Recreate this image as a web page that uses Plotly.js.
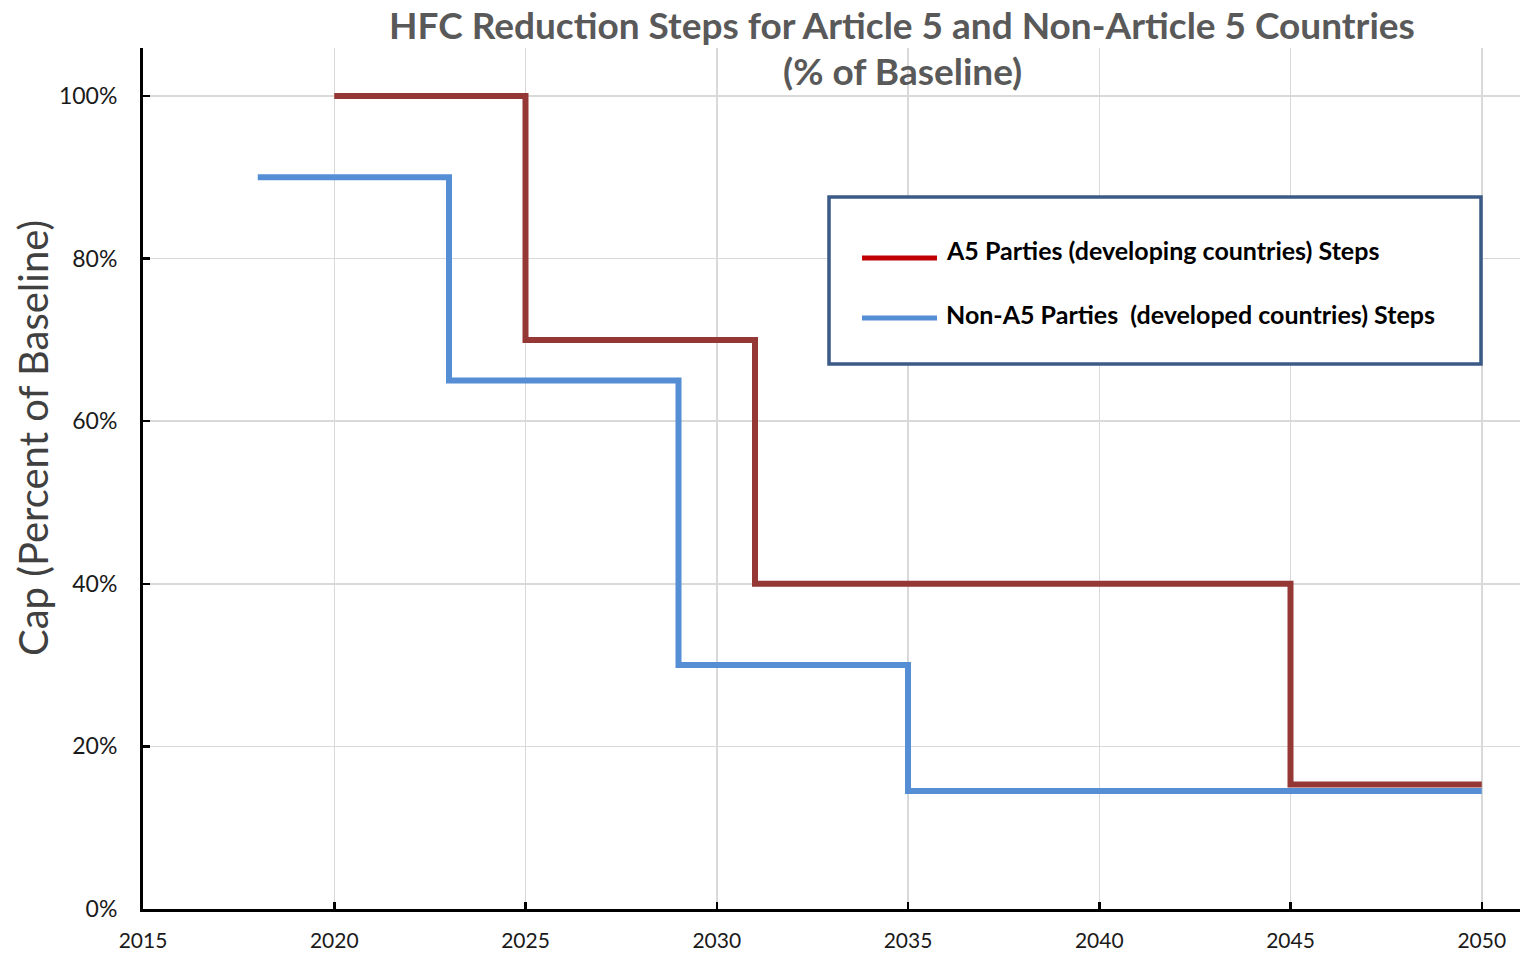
<!DOCTYPE html>
<html>
<head>
<meta charset="utf-8">
<script src="https://cdn.plot.ly/plotly-3.0.1.min.js"></script>
<style>html,body{margin:0;padding:0;background:#fff;}#chart{width:1520px;height:955px;}</style>
</head>
<body>
<div id="chart"></div>
<script>
// Data
const a5Years = [2020, 2025, 2031, 2045, 2050];
const a5Caps = [100, 70, 40, 15.3, 15.3];
const nonA5Years = [2018, 2023, 2029, 2035, 2050];
const nonA5Caps = [90, 65, 30, 14.5, 14.5];
const seriesNames = ["A5 Parties (developing countries) Steps", "Non-A5 Parties \u00a0(developed countries) Steps"];
const titleLines = ["HFC Reduction Steps for Article 5 and Non-Article 5 Countries", "(% of Baseline)"];
const yAxisTitle = "Cap (Percent of Baseline)";
const xTickVals = [2015, 2020, 2025, 2030, 2035, 2040, 2045, 2050];
const yTickVals = [0, 20, 40, 60, 80, 100];
const yTickText = ["0%", "20%", "40%", "60%", "80%", "100%"];

const FONT = "Lato, 'Open Sans', 'DejaVu Sans', sans-serif";
const RED = "#953735", BLUE = "#558ED5";

const traces = [
  {x: nonA5Years, y: nonA5Caps, mode: "lines", line: {shape: "hv", color: BLUE, width: 6}, name: seriesNames[1], showlegend: false, hoverinfo: "x+y"},
  {x: a5Years, y: a5Caps, mode: "lines", line: {shape: "hv", color: RED, width: 6}, name: seriesNames[0], showlegend: false, hoverinfo: "x+y"}
];

// pixel helpers (paper coords)
const L = 143, W = 1377, B = 909, H = 861;
const px = v => (v - L) / W;
const py = v => (B - v) / H;

const layout = {
  width: 1520, height: 955,
  margin: {l: 143, r: 0, t: 48, b: 46},
  paper_bgcolor: "#ffffff", plot_bgcolor: "#ffffff",
  font: {family: FONT, color: "#1a1a1a"},
  xaxis: {
    range: [2015, 2051], tickvals: xTickVals, ticktext: xTickVals.map(String),
    showgrid: true, gridcolor: "#d9d9d9", gridwidth: 1.5,
    showline: true, linecolor: "#000", linewidth: 3, mirror: false,
    ticks: "inside", ticklen: 7, tickwidth: 2.5, tickcolor: "#000",
    tickfont: {family: FONT, size: 21, color: "#1a1a1a"},
    ticklabelstandoff: 11, zeroline: false, fixedrange: true
  },
  yaxis: {
    range: [0, 105.9], tickvals: yTickVals, ticktext: yTickText,
    showgrid: true, gridcolor: "#d9d9d9", gridwidth: 1.5,
    showline: true, linecolor: "#000", linewidth: 3, mirror: false,
    ticks: "inside", ticklen: 7, tickwidth: 2.5, tickcolor: "#000",
    tickfont: {family: FONT, size: 23, color: "#1a1a1a"},
    ticklabelstandoff: 18, zeroline: false, fixedrange: true
  },
  shapes: [
    {type: "rect", xref: "paper", yref: "paper", x0: px(829), x1: px(1481), y0: py(364), y1: py(197),
     line: {color: "#3B5A85", width: 3.5}, fillcolor: "#ffffff", layer: "above"},
    {type: "line", xref: "paper", yref: "paper", x0: px(862), x1: px(937), y0: py(258), y1: py(258),
     line: {color: "#C00000", width: 5}, layer: "above"},
    {type: "line", xref: "paper", yref: "paper", x0: px(862), x1: px(937), y0: py(318), y1: py(318),
     line: {color: BLUE, width: 5}, layer: "above"}
  ],
  annotations: [
    {text: "<b>" + titleLines[0] + "</b>", xref: "paper", yref: "paper", x: px(902), y: py(24),
     xanchor: "center", yanchor: "middle", showarrow: false, font: {family: FONT, size: 37, color: "#595959"}},
    {text: "<b>" + titleLines[1] + "</b>", xref: "paper", yref: "paper", x: px(902), y: py(70),
     xanchor: "center", yanchor: "middle", showarrow: false, font: {family: FONT, size: 37, color: "#595959"}},
    {text: "<b>" + seriesNames[0] + "</b>", xref: "paper", yref: "paper", x: px(944), y: py(250),
     xanchor: "left", yanchor: "middle", showarrow: false, font: {family: FONT, size: 25, color: "#000"}},
    {text: "<b>" + seriesNames[1] + "</b>", xref: "paper", yref: "paper", x: px(944), y: py(314),
     xanchor: "left", yanchor: "middle", showarrow: false, font: {family: FONT, size: 25, color: "#000"}},
    {text: yAxisTitle, xref: "paper", yref: "paper", x: px(33), y: py(438),
     xanchor: "center", yanchor: "middle", textangle: -90, showarrow: false,
     font: {family: FONT, size: 40, color: "#404040"}}
  ]
};

Plotly.newPlot("chart", traces, layout, {displayModeBar: false, staticPlot: true});
</script>
</body>
</html>
